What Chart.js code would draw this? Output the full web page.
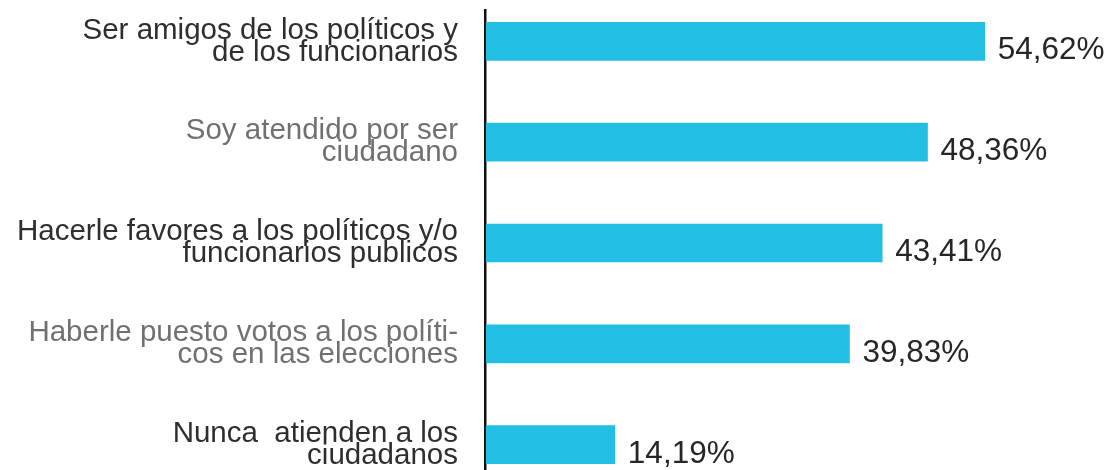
<!DOCTYPE html>
<html>
<head>
<meta charset="utf-8">
<script src="https://cdn.jsdelivr.net/npm/chart.js@4/dist/chart.umd.min.js"></script>
<style>
  html, body { margin: 0; padding: 0; background: #fff; overflow: hidden; }
  #wrap { position: absolute; left: 0; top: -9px; width: 1116px; height: 505px; }
</style>
</head>
<body>
<div id="wrap"><canvas id="chart"></canvas></div>
<script>
const categories = [
    ['Ser amigos de los políticos y', 'de los funcionarios'],
    ['Soy atendido por ser', 'ciudadano'],
    ['Hacerle favores a los políticos y/o', 'funcionarios publicos'],
    ['Haberle puesto votos a los políti-', 'cos en las elecciones'],
    ['Nunca  atienden a los', 'ciudadanos']
];
const shares = [54.62, 48.36, 43.41, 39.83, 14.19];

const FONT = '"Liberation Sans", Arial, Helvetica, sans-serif';

function percent(v){
    return v.toFixed(2).replace('.', ',') + '%';
}

// writes the percentage just past the end of each bar
const valueLabels = {
    id: 'valueLabels',
    afterDatasetsDraw(chart){
        const ctx = chart.ctx;
        const meta = chart.getDatasetMeta(0);
        ctx.save();
        ctx.font = '31.5px ' + FONT;
        ctx.fillStyle = '#262626';
        ctx.textAlign = 'left';
        ctx.textBaseline = 'alphabetic';
        meta.data.forEach((bar, i) => {
            ctx.fillText(percent(shares[i]), bar.x + 13, bar.y + 18);
        });
        ctx.restore();
    }
};

function createChart(){
    const canvas = document.querySelector('#chart');
    let options = {
        type: 'bar',
        data: {
            labels: categories,
            datasets: [{
                data: shares,
                backgroundColor: '#22bee3',
                borderWidth: 0,
                barThickness: 38,
            }]
        },
        options: {
            indexAxis: 'y',
            responsive: true,
            maintainAspectRatio: false,
            animation: false,
            layout: {
                padding: { top: 0, bottom: 1, left: 0, right: 82 }
            },
            scales: {
                x: {
                    min: 0,
                    max: 60,
                    ticks: { display: false, stepSize: 60 },
                    // only the zero line is drawn: it is the black axis,
                    // starting a little below the top edge
                    grid: {
                        drawTicks: false,
                        lineWidth: 2.5,
                        color: (ctx) => ctx.tick && ctx.tick.value === 0 ? '#111' : 'rgba(0,0,0,0)',
                    },
                    border: {
                        display: false,
                        dash: [0, 18, 2000, 0],
                    },
                },
                y: {
                    grid: { display: false, drawTicks: false },
                    border: { display: false },
                    ticks: {
                        padding: 27,
                        color: (ctx) => ctx.index % 2 ? '#707070' : '#2e2e2e',
                        font: { family: FONT, size: 29.5, lineHeight: '22px' },
                    },
                    afterFit(scale){
                        scale.width = 485;
                        // no extra room above/below for the outer labels
                        scale.paddingTop = 0;
                        scale.paddingBottom = 0;
                    },
                },
            },
            plugins: {
                legend: { display: false },
                tooltip: { enabled: false },
            },
        },
        plugins: [valueLabels],
    };
    const chart = new Chart(canvas.getContext('2d'), options);
}

createChart();
</script>
</body>
</html>
